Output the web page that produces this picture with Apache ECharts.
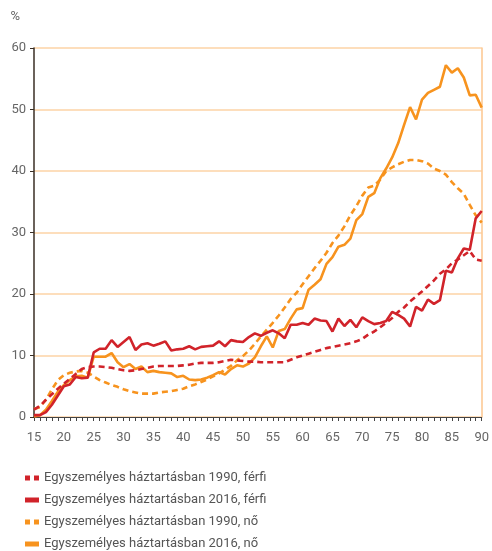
<!DOCTYPE html>
<html>
<head>
<meta charset="utf-8">
<script src="https://cdn.jsdelivr.net/npm/echarts@6/dist/echarts.min.js"></script>
<style>
  html, body { margin: 0; padding: 0; background: #fff; }
  #chart { width: 492px; height: 551px; }
</style>
</head>
<body>
<div id="chart"></div>
<script>
// életkor 15..90
var ages = [];
for (var a = 15; a <= 90; a++) ages.push(a);

var names = [
  'Egyszemélyes háztartásban 1990, férfi',
  'Egyszemélyes háztartásban 2016, férfi',
  'Egyszemélyes háztartásban 1990, nő',
  'Egyszemélyes háztartásban 2016, nő'
];

// férfi 1990 (szaggatott piros)
var men1990 = [
  1.2, 1.8, 2.8, 3.7, 4.6, 5.4, 6.2, 7.0, 7.8, 8.1,
  8.2, 8.2, 8.1, 8.0, 7.8, 7.6, 7.5, 7.6, 7.8, 8.0,
  8.2, 8.3, 8.3, 8.3, 8.3, 8.4, 8.5, 8.7, 8.8, 8.8,
  8.8, 8.9, 9.1, 9.3, 9.2, 9.1, 9.0, 9.0, 8.9, 8.9,
  8.9, 8.9, 8.9, 9.3, 9.7, 10.0, 10.3, 10.6, 10.9, 11.2,
  11.4, 11.6, 11.8, 12.0, 12.3, 12.7, 13.4, 13.9, 14.6, 15.3,
  16.1, 17.1, 17.8, 18.8, 19.6, 20.4, 21.3, 22.2, 23.3, 24.0,
  25.0, 25.6, 26.3, 27.0, 25.6, 25.4
];
// férfi 2016 (folytonos piros)
var men2016 = [
  0.3, 0.3, 0.8, 2.0, 3.5, 5.0, 5.3, 6.5, 6.3, 6.4,
  10.5, 11.1, 11.1, 12.5, 11.4, 12.2, 13.0, 10.9, 11.8, 12.0,
  11.6, 11.9, 12.3, 10.8, 11.0, 11.1, 11.5, 11.0, 11.4, 11.5,
  11.6, 12.3, 11.5, 12.5, 12.3, 12.2, 13.0, 13.6, 13.2, 13.7,
  14.1, 13.6, 12.8, 15.0, 15.0, 15.3, 15.0, 16.0, 15.7, 15.6,
  13.9, 16.0, 14.8, 15.8, 14.6, 16.2, 15.6, 15.1, 15.3, 15.6,
  17.1, 16.6, 16.0, 14.7, 17.9, 17.3, 19.1, 18.4, 19.0, 23.8,
  23.5, 25.8, 27.4, 27.2, 32.3, 33.5
];
// nő 1990 (szaggatott narancs)
var women1990 = [
  1.3, 1.6, 2.8, 4.5, 6.0, 6.8, 7.2, 7.4, 7.5, 7.2,
  6.6, 6.0, 5.6, 5.2, 4.9, 4.5, 4.2, 4.0, 3.8, 3.8,
  3.8, 4.0, 4.1, 4.2, 4.4, 4.6, 5.0, 5.3, 5.7, 6.1,
  6.6, 7.1, 7.7, 8.3, 9.2, 9.9, 10.8, 11.9, 13.1, 14.2,
  15.3, 16.5, 17.8, 19.2, 20.2, 21.6, 22.9, 24.2, 25.4, 26.7,
  28.3, 29.5, 31.0, 32.8, 34.3, 36.0, 37.3, 37.6, 38.6, 40.0,
  40.6, 41.1, 41.5, 41.8, 41.8, 41.6, 41.2, 40.4, 40.0, 39.4,
  38.2, 37.2, 36.3, 34.5, 32.8, 31.6
];
// nő 2016 (folytonos narancs)
var women2016 = [
  0.1, 0.3, 1.2, 2.6, 4.1, 5.2, 6.0, 6.6, 6.7, 6.4,
  9.8, 9.8, 9.8, 10.4, 8.9, 8.1, 8.6, 7.8, 8.2, 7.3,
  7.5, 7.3, 7.2, 7.1, 6.5, 6.7, 6.1, 6.0, 6.1, 6.4,
  6.8, 7.3, 6.9, 7.8, 8.4, 8.2, 8.7, 9.7, 11.5, 13.1,
  11.3, 14.0, 14.3, 16.0, 17.5, 17.7, 20.7, 21.5, 22.4, 24.9,
  26.0, 27.7, 28.0, 29.0, 32.0, 33.0, 35.8, 36.4, 38.8, 40.4,
  42.2, 44.5, 47.5, 50.4, 48.4, 51.6, 52.7, 53.2, 53.7, 57.2,
  56.0, 56.7, 55.2, 52.3, 52.4, 50.3
];

var RED = '#d1232a';
var ORANGE = '#f7931e';
var FONT = "Roboto, 'Noto Sans', sans-serif";

function pairs(vals) {
  return ages.map(function (a, i) { return [a, vals[i]]; });
}

function lineSeries(name, vals, color, dashed) {
  return {
    name: name,
    type: 'line',
    data: pairs(vals),
    showSymbol: false,
    symbol: 'none',
    lineStyle: { color: color, width: 2.6, type: dashed ? [6, 4] : 'solid' },
    itemStyle: { color: color },
    animation: false
  };
}

var dashIcon = 'path://M0,0h5v5h-5zM9,0h5v5h-5z';
var solidIcon = 'path://M0,0h14v5h-14z';

var option = {
  animation: false,
  grid: { left: 34, right: 8, top: 48, bottom: 134 },
  legend: {
    orient: 'vertical',
    left: 25,
    top: 471,
    padding: 0,
    itemWidth: 14,
    itemHeight: 5,
    itemGap: 8,
    textStyle: { color: '#555', fontSize: 13, lineHeight: 14, fontFamily: FONT },
    data: [
      { name: names[0], icon: dashIcon },
      { name: names[1], icon: solidIcon },
      { name: names[2], icon: dashIcon },
      { name: names[3], icon: solidIcon }
    ]
  },
  xAxis: {
    type: 'value',
    min: 15,
    max: 90,
    interval: 5,
    axisLine: { show: true, lineStyle: { color: '#444', width: 1 } },
    axisTick: { show: true, length: 4, lineStyle: { color: '#444' } },
    minorTick: { show: true, splitNumber: 5, length: 4, lineStyle: { color: '#444' } },
    splitLine: { show: false },
    axisLabel: { color: '#666', fontSize: 13, fontFamily: FONT, margin: 14 }
  },
  yAxis: [
    {
      type: 'value',
      min: 0,
      max: 60,
      interval: 10,
      name: '%',
      nameLocation: 'end',
      nameGap: 25,
      nameTextStyle: { color: '#666', fontSize: 13, fontFamily: FONT, align: 'right', padding: [0, 14, 0, 0] },
      axisLine: { show: true, lineStyle: { color: '#3a2e24', width: 1.5 } },
      axisTick: { show: true, length: 4, lineStyle: { color: '#3a2e24' } },
      splitLine: { show: true, lineStyle: { color: '#fdd3a6', width: 1.5 } },
      axisLabel: { color: '#666', fontSize: 13, fontFamily: FONT, margin: 8 }
    },
    {
      type: 'value',
      position: 'right',
      min: 0,
      max: 60,
      interval: 10,
      axisLine: { show: true, lineStyle: { color: '#fcc68e', width: 1.5 } },
      axisTick: { show: false },
      axisLabel: { show: false },
      splitLine: { show: false }
    }
  ],
  series: [
    lineSeries(names[2], women1990, ORANGE, true),
    lineSeries(names[3], women2016, ORANGE, false),
    lineSeries(names[0], men1990, RED, true),
    lineSeries(names[1], men2016, RED, false)
  ]
};

var chart = echarts.init(document.getElementById('chart'), null, { renderer: 'canvas' });
chart.setOption(option);
</script>
</body>
</html>
